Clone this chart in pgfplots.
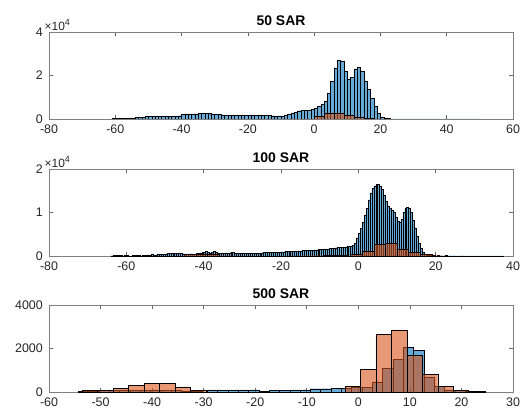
\documentclass[border=0pt]{standalone}
\usepackage{pgfplots}
\pgfplotsset{compat=1.18}
\usepackage{fontspec}
\setmainfont{Liberation Sans}

\definecolor{mblue}{RGB}{0,114,189}
\definecolor{morange}{RGB}{217,83,25}
\definecolor{mgray}{RGB}{38,38,38}

\pgfplotsset{
  sarax/.style={
    scale only axis, width=464bp, height=87bp,
    tick align=inside, tick pos=both, major tick length=4bp,
    axis line style={draw=black!50, line width=0.7bp},
    every tick/.style={draw=black!60, line width=0.6bp},
    tick label style={font=\fontsize{12.5}{13}\selectfont, text=mgray, inner sep=0.5bp},
    xticklabel style={yshift=-5.5bp},
    yticklabel style={xshift=-5.5bp},
    /pgf/number format/assume math mode=true,
    /pgf/number format/1000 sep={},
    title style={font=\fontsize{14}{14}\selectfont\bfseries, yshift=-3bp},
    every y tick scale label/.style={at={(rel axis cs:0,1)}, anchor=south west,
      inner sep=1bp, font=\fontsize{12}{12}\selectfont, text=mgray},
    ytick scale label code/.code={×10\raisebox{0.9ex}{\fontsize{9}{9}\selectfont 4}},
  },
  hb/.style={ybar, bar shift=0pt, bar width=#1, fill=mblue, fill opacity=0.6,
    draw=black, line width=0.45bp},
  ho/.style={ybar, bar shift=0pt, bar width=#1, fill=morange, fill opacity=0.6,
    draw=black, line width=0.45bp},
}

\begin{document}
\begin{tikzpicture}
\path[use as bounding box] (-49bp,-292bp) rectangle (473bp,119bp);

% ---- 50 SAR
\begin{axis}[sarax, at={(0,0)}, anchor=south west,
  title={50 SAR},
  xmin=-80, xmax=60, xtick={-80,-60,...,60},
  ymin=0, ymax=40000, ytick={0,20000,40000},
  scaled y ticks=base 10:-4]
\addplot[hb=1] coordinates {
(-61.5,100) (-60.5,150) (-59.5,200) (-58.5,180) (-57.5,150) (-56.5,250) (-55.5,350)
(-54.5,450) (-53.5,600) (-52.5,800) (-51.5,1000) (-50.5,1200) (-49.5,1300) (-48.5,1350)
(-47.5,1300) (-46.5,1350) (-45.5,1300) (-44.5,1350) (-43.5,1300) (-42.5,1350) (-41.5,1400)
(-40.5,1500) (-39.5,2000) (-38.5,2300) (-37.5,2400) (-36.5,2400) (-35.5,2400) (-34.5,2500)
(-33.5,2800) (-32.5,2600) (-31.5,2500) (-30.5,2400) (-29.5,2300) (-28.5,2100) (-27.5,1900)
(-26.5,1800) (-25.5,1850) (-24.5,1800) (-23.5,1850) (-22.5,1800) (-21.5,1800) (-20.5,1850)
(-19.5,1800) (-18.5,1850) (-17.5,1800) (-16.5,1850) (-15.5,1800) (-14.5,1750) (-13.5,1700)
(-12.5,1500) (-11.5,1400) (-10.5,1400) (-9.5,1400) (-8.5,1600) (-7.5,2200) (-6.5,2800)
(-5.5,3300) (-4.5,3800) (-3.5,4100) (-2.5,4200) (-1.5,4200) (-0.5,4300) (0.5,5000)
(1.5,5800) (2.5,6600) (3.5,8100) (4.5,12000) (5.5,17300) (6.5,23500) (7.5,27000)
(8.5,26500) (9.5,22000) (10.5,18400) (11.5,19000) (12.5,23000) (13.5,24000) (14.5,22000)
(15.5,17300) (16.5,13500) (17.5,9700) (18.5,5800) (19.5,2800) (20.5,900) (21.5,300)
(22.5,150) (23.5,100) (24.5,80) (25.5,90) (26.5,70) (27.5,80) (28.5,60) (29.5,70)
(30.5,80) (31.5,60) (32.5,70) (33.5,60) (34.5,80) (35.5,70) (36.5,60) (37.5,70)
(38.5,60) (39.5,80) (40.5,70) (41.5,90) (42.5,60) (43.5,70) (44.5,60) (45.5,50)
(46.5,60) (47.5,50) (48.5,60) (49.5,40)
};
\addplot[ho=3] coordinates {
(1.5,1250) (4.5,2800) (7.5,2800) (10.5,1750) (13.5,800) (16.5,300) (19.5,100)
};
\end{axis}

% ---- 100 SAR
\begin{axis}[sarax, at={(0,-137bp)}, anchor=south west,
  title={100 SAR},
  xmin=-80, xmax=40, xtick={-80,-60,...,40},
  ymin=0, ymax=20000, ytick={0,10000,20000},
  scaled y ticks=base 10:-4]
\addplot[hb=0.5] coordinates {
(-63.75,60) (-63.25,80) (-62.75,50) (-62.25,90) (-61.75,120) (-61.25,70) (-60.75,60)
(-60.25,80) (-59.75,100) (-59.25,60) (-58.75,50) (-58.25,90) (-57.75,70) (-57.25,110)
(-56.75,80) (-56.25,60) (-55.75,90) (-55.25,120)
(-54.75,200) (-54.25,250) (-53.75,220) (-53.25,300) (-52.75,280) (-52.25,260) (-51.75,320)
(-51.25,350) (-50.75,400) (-50.25,450)
(-49.75,500) (-49.25,550) (-48.75,600) (-48.25,580) (-47.75,560) (-47.25,620) (-46.75,600)
(-46.25,580) (-45.75,540) (-45.25,520)
(-44.75,480) (-44.25,500) (-43.75,470) (-43.25,520) (-42.75,500) (-42.25,480) (-41.75,530)
(-41.25,550)
(-40.75,700) (-40.25,800) (-39.75,900) (-39.25,1000) (-38.75,850) (-38.25,750) (-37.75,900)
(-37.25,1000) (-36.75,800) (-36.25,650)
(-35.75,600) (-35.25,650) (-34.75,620) (-34.25,580) (-33.75,640) (-33.25,700) (-32.75,900)
(-32.25,950) (-31.75,700) (-31.25,600) (-30.75,620) (-30.25,600)
(-29.75,560) (-29.25,540) (-28.75,580) (-28.25,600) (-27.75,550) (-27.25,570) (-26.75,600)
(-26.25,620) (-25.75,650) (-25.25,700)
(-24.75,750) (-24.25,780) (-23.75,800) (-23.25,820) (-22.75,800) (-22.25,840) (-21.75,860)
(-21.25,880) (-20.75,900) (-20.25,920)
(-19.75,950) (-19.25,980) (-18.75,1000) (-18.25,1020) (-17.75,1050) (-17.25,1080)
(-16.75,1100) (-16.25,1150) (-15.75,1180) (-15.25,1200)
(-14.75,1200) (-14.25,1250) (-13.75,1300) (-13.25,1280) (-12.75,1320) (-12.25,1350)
(-11.75,1400) (-11.25,1380) (-10.75,1420) (-10.25,1450)
(-9.75,1500) (-9.25,1550) (-8.75,1600) (-8.25,1650) (-7.75,1600) (-7.25,1700) (-6.75,1750)
(-6.25,1800)
(-5.75,1900) (-5.25,1950) (-4.75,2000) (-4.25,2050) (-3.75,2100) (-3.25,2100) (-2.75,2150)
(-2.25,2200)
(-1.75,2300) (-1.25,2500) (-0.75,3000) (-0.25,4200) (0.25,5200) (0.75,6400) (1.25,7700)
(1.75,9300) (2.25,11000) (2.75,12900) (3.25,14500) (3.75,15600) (4.25,16100) (4.75,16400)
(5.25,16400) (5.75,16000) (6.25,15300) (6.75,14000) (7.25,12500) (7.75,11500) (8.25,11000)
(8.75,10600) (9.25,10100) (9.75,9000) (10.25,8000) (10.75,7700) (11.25,8500) (11.75,10000)
(12.25,10900) (12.75,11200) (13.25,10900) (13.75,10000) (14.25,8300) (14.75,6500)
(15.25,4600) (15.75,2900) (16.25,1700) (16.75,900) (17.25,500) (17.75,250) (18.25,150)
(18.75,100)
(19.25,80) (19.75,70) (20.25,60) (20.75,70) (21.25,60) (21.75,50) (22.25,60) (22.75,70)
(23.25,50) (23.75,60) (24.25,50) (24.75,60) (25.25,50) (25.75,40) (26.25,50) (26.75,60)
(27.25,50) (27.75,40) (28.25,50) (28.75,40) (29.25,50) (29.75,40) (30.25,50) (30.75,40)
(31.25,40) (31.75,50) (32.25,40) (32.75,40) (33.25,50) (33.75,40) (34.25,40) (34.75,30)
(35.25,40) (35.75,30) (36.25,40) (36.75,30) (37.25,30)
};
\addplot[ho=3] coordinates {
(-43.5,300) (-40.5,350) (-37.5,300) (-34.5,60) (-31.5,50) (-28.5,50) (-25.5,40)
(-22.5,40) (-19.5,50) (-16.5,50) (-13.5,60) (-10.5,60) (-7.5,70) (-4.5,80)
(-0.5,300) (2.5,1000) (5.5,2600) (8.5,2850) (11.5,1650) (14.5,900) (17.5,350) (20.5,60)
};
\end{axis}

% ---- 500 SAR
\begin{axis}[sarax, at={(0,-273bp)}, anchor=south west,
  title={500 SAR},
  xmin=-60, xmax=30, xtick={-60,-50,...,30},
  ymin=0, ymax=4000, ytick={0,2000,4000},
  scaled y ticks=false]
\addplot[hb=2] coordinates {
(-53.3,40) (-51.3,40) (-49.3,60) (-47.3,60) (-45.3,80) (-43.3,80) (-41.3,80) (-39.3,60)
(-37.3,60) (-35.3,60) (-33.3,50) (-31.3,40)
(-28.3,100) (-26.3,100) (-24.3,100) (-22.3,100) (-20.3,100) (-18.3,30) (-16.3,90)
(-14.3,90) (-12.3,100) (-10.3,100) (-8.3,150) (-6.3,150) (-4.3,160) (-2.3,180)
(-0.3,220) (1.7,230) (3.7,460) (5.7,1100) (7.7,1500) (9.7,2050) (11.7,1930) (13.7,700)
(15.7,270) (17.7,100) (19.7,60) (21.7,40) (23.7,20)
};
\addplot[ho=3] coordinates {
(-52.1,60) (-49.1,60) (-46.1,170) (-43.1,290) (-40.1,390) (-37.1,390) (-34.1,240)
(-31.1,90) (-1.1,270) (1.9,1045) (4.9,2640) (7.9,2860) (10.9,1680) (13.9,820)
(16.9,270) (19.9,90)
};
\end{axis}
\end{tikzpicture}
\end{document}
